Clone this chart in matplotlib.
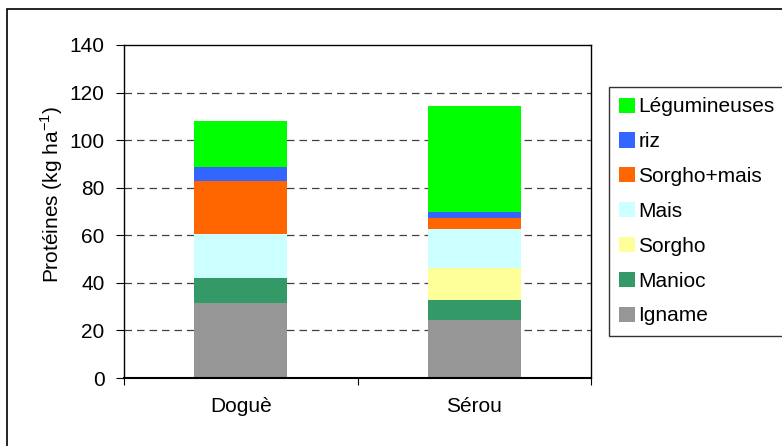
import numpy as np
import matplotlib
matplotlib.use('Agg')
import matplotlib.pyplot as plt
from matplotlib.patches import Rectangle

plt.rcParams['font.family'] = ['Liberation Sans', 'DejaVu Sans']
plt.rcParams['mathtext.fontset'] = 'custom'
plt.rcParams['mathtext.rm'] = 'Liberation Sans'

sites = ['Doguè', 'Sérou']
cultures = ['Igname', 'Manioc', 'Sorgho', 'Mais', 'Sorgho+mais', 'riz', 'Légumineuses']
igname = [31.5, 24.4]
manioc = [10.5, 8.4]
sorgho = [0.0, 13.4]
mais = [18.5, 16.4]
sorgho_mais = [22.3, 4.6]
riz = [5.9, 2.5]
legumineuses = [19.3, 44.6]
couleurs = ['#969696', '#339966', '#FFFF99', '#CCFFFF', '#FF6600', '#3366FF', '#00FF00']

series = [igname, manioc, sorgho, mais, sorgho_mais, riz, legumineuses]

fig = plt.figure(figsize=(7.82, 4.46), dpi=100)
ax = fig.add_axes([124/782, 68/446, 467/782, 333/446])

# outer frame, cut by the right and bottom of the picture
fig.patches.append(Rectangle((7/782, -0.2), 1.2, 1.2 - 9/446,
                             transform=fig.transFigure, fill=False,
                             edgecolor='black', linewidth=1.2))

x = np.arange(len(sites))
bottom = np.zeros(len(sites))
bars = []
for vals, lab, c in zip(series, cultures, couleurs):
    b = ax.bar(x, vals, width=0.4, bottom=bottom, color=c, label=lab, zorder=3)
    bars.append(b)
    bottom += np.array(vals)

ax.set_xlim(-0.5, 1.5)
ax.set_ylim(0, 140)
ax.set_yticks(np.arange(0, 141, 20))
ax.set_xticks([-0.5, 0.5, 1.5])
ax.set_xticklabels([])
ax.set_xticks(x, minor=True)
ax.set_xticklabels(sites, minor=True)
ax.tick_params(axis='x', which='minor', length=0, pad=14, labelsize=15)
ax.tick_params(axis='x', which='major', direction='out', length=5)
ax.tick_params(axis='y', direction='out', length=6, labelsize=15, pad=8)
for v in range(20, 140, 20):
    ax.axhline(v, color='#404040', linestyle=(0, (6, 4)), linewidth=0.9, zorder=1)
for s in ax.spines.values():
    s.set_linewidth(1.0)
ax.spines['bottom'].set_linewidth(1.5)
ax.spines['bottom'].set_zorder(4)

ax.set_ylabel('Protéines (kg ha$^{-1}$)', fontsize=15)
ax.yaxis.set_label_coords(-0.127, 0.55)

handles = [b for b in bars][::-1]
labels = cultures[::-1]
leg = fig.legend(handles, labels, loc='upper left',
                 bbox_to_anchor=(609/782, 0, 0.3, (446-87)/446),
                 bbox_transform=fig.transFigure, mode='expand',
                 fontsize=15, frameon=True, fancybox=False,
                 edgecolor='black', handlelength=0.75, handleheight=0.75,
                 handletextpad=0.15, labelspacing=0.76, borderpad=0.5,
                 borderaxespad=0)
leg.get_frame().set_linewidth(1.0)

fig.savefig('out.png', dpi=100)
